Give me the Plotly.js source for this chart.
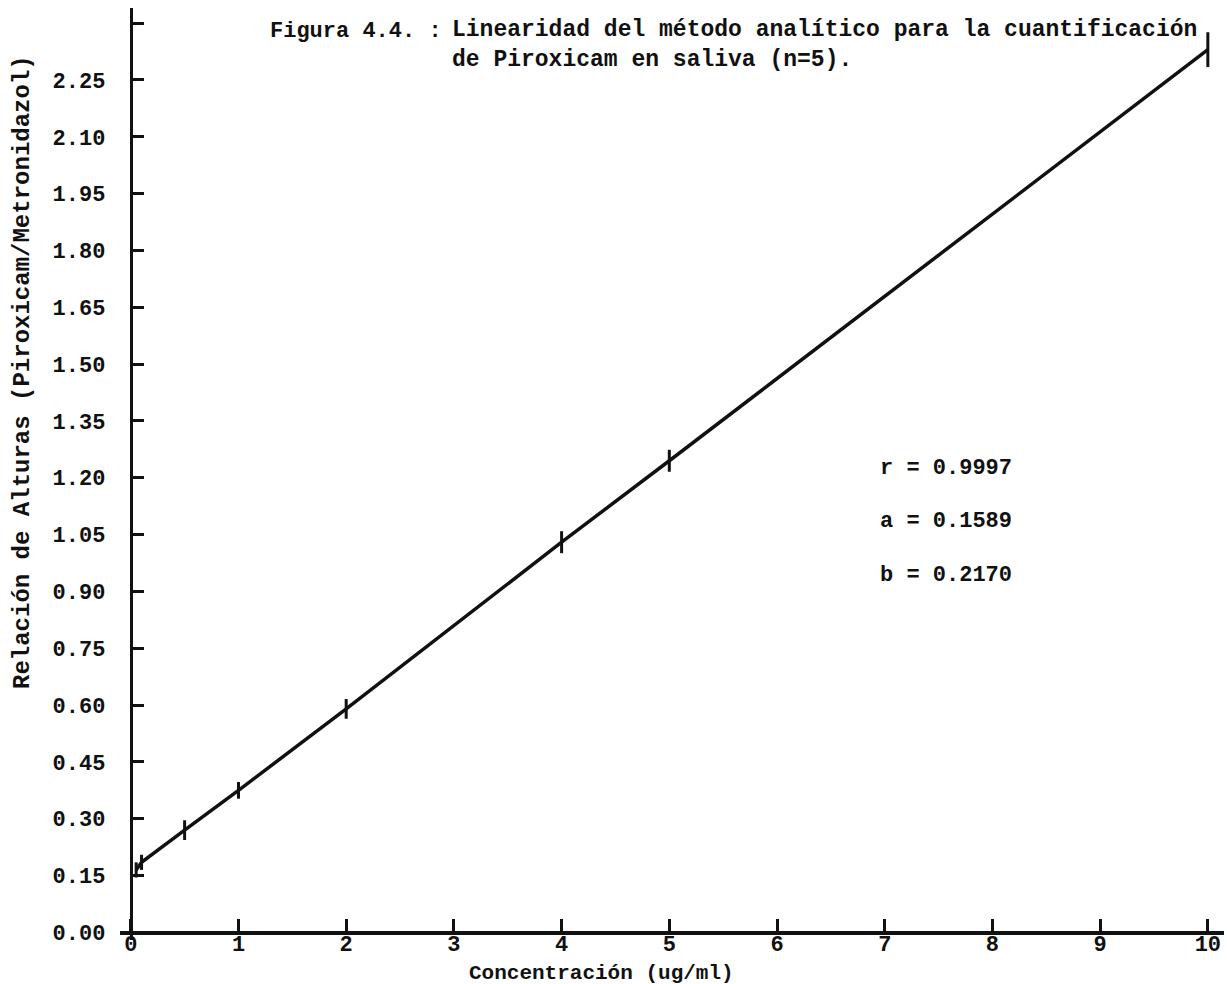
<!DOCTYPE html>
<html>
<head>
<meta charset="utf-8">
<script src="https://cdn.plot.ly/plotly-3.0.1.min.js"></script>
<style>html,body{margin:0;padding:0;background:#fff;}</style>
</head>
<body>
<div id="chart" style="width:1227px;height:984px;"></div>
<script>
// Data
const concentration = [0.05, 0.1, 0.5, 1, 2, 4, 5, 10];
const heightRatio   = [0.165, 0.185, 0.270, 0.375, 0.590, 1.030, 1.245, 2.330];
const ratioError    = [0.020, 0.020, 0.026, 0.022, 0.026, 0.029, 0.029, 0.046];

const yTickVals = [0, 0.15, 0.30, 0.45, 0.60, 0.75, 0.90, 1.05, 1.20, 1.35, 1.50, 1.65, 1.80, 1.95, 2.10, 2.25, 2.40];
const yTickText = ['0.00','0.15','0.30','0.45','0.60','0.75','0.90','1.05','1.20','1.35','1.50','1.65','1.80','1.95','2.10','2.25',''];
const xTickVals = [0,1,2,3,4,5,6,7,8,9,10];
const xTickText = ['0','1','2','3','4','5','6','7','8','9','10'];

const statNames  = ['r', 'a', 'b'];
const statValues = ['0.9997', '0.1589', '0.2170'];

const figLabel   = 'Figura 4.4. :';
const titleText  = 'Linearidad del método analítico para la cuantificación<br>de Piroxicam en saliva (n=5).';
const xTitleText = 'Concentración (ug/ml)';
const yTitleText = 'Relación de Alturas (Piroxicam/Metronidazol)';

const FONT = 'Liberation Mono, Courier New, monospace';
const INK = '#111';

const trace = {
  x: concentration,
  y: heightRatio,
  type: 'scatter',
  mode: 'lines',
  line: {color: INK, width: 3.5},
  error_y: {type: 'data', array: ratioError, visible: true, color: INK, thickness: 3, width: 0},
  hoverinfo: 'x+y'
};

const statYs = [0.5064, 0.4485, 0.3916];
const annotations = statNames.map((n, i) => ({
  xref: 'paper', yref: 'paper', x: 0.6866, y: statYs[i],
  xanchor: 'left', yanchor: 'middle', showarrow: false,
  text: n + ' = ' + statValues[i],
  font: {family: FONT, size: 22, color: INK, weight: 'bold'}
}));
annotations.push({
  xref: 'paper', yref: 'paper', x: (268-120)/1104, y: (940-32)/932,
  xanchor: 'left', yanchor: 'middle', showarrow: false,
  text: figLabel, font: {family: FONT, size: 22, color: INK, weight: 'bold'}
});
annotations.push({
  xref: 'paper', yref: 'paper', x: (601-120)/1104, y: (940-973)/932,
  xanchor: 'center', yanchor: 'middle', showarrow: false,
  text: xTitleText, font: {family: FONT, size: 21, color: INK, weight: 'bold'}
});
annotations.push({
  xref: 'paper', yref: 'paper', x: (22-120)/1104, y: (940-372)/932,
  xanchor: 'center', yanchor: 'middle', showarrow: false, textangle: -90,
  text: yTitleText, font: {family: FONT, size: 24, color: INK, weight: 'bold'}
});

const layout = {
  width: 1227, height: 984,
  margin: {l: 120, r: 3, t: 8, b: 44},
  paper_bgcolor: '#fff', plot_bgcolor: '#fff',
  showlegend: false,
  title: {
    text: titleText, x: 452/1227, xanchor: 'left', xref: 'container',
    y: 1 - 36/984, yanchor: 'top', yref: 'container',
    font: {family: FONT, size: 23, color: INK, weight: 'bold'}
  },
  xaxis: {
    range: [-0.1, 10.15], anchor: 'free', position: 0.02/2.46,
    showgrid: false, zeroline: false, showline: true, linecolor: INK, linewidth: 3.5,
    ticks: 'inside', ticklen: 12, tickwidth: 3, tickcolor: INK,
    tickvals: xTickVals, ticktext: xTickText, ticklabelstandoff: -10,
    tickfont: {family: FONT, size: 22, color: INK, weight: 'bold'}
  },
  yaxis: {
    range: [-0.02, 2.44], anchor: 'free', position: 0.1/10.25,
    showgrid: false, zeroline: false, showline: true, linecolor: INK, linewidth: 3.5,
    ticks: 'inside', ticklen: 11, tickwidth: 3, tickcolor: INK,
    tickvals: yTickVals, ticktext: yTickText, ticklabelstandoff: 20,
    tickfont: {family: FONT, size: 22, color: INK, weight: 'bold'}
  },
  annotations: annotations
};

Plotly.newPlot('chart', [trace], layout, {displayModeBar: false, staticPlot: true});
</script>
</body>
</html>
